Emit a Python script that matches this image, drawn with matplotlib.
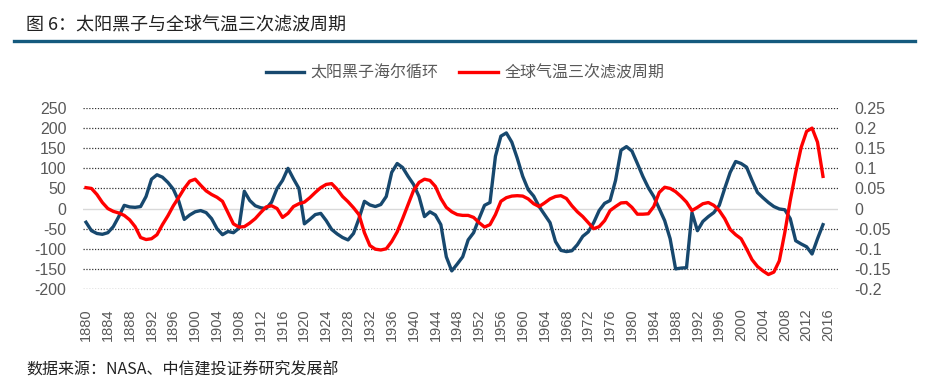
import matplotlib
matplotlib.use("Agg")
import matplotlib.pyplot as plt
from matplotlib.lines import Line2D

plt.rcParams['font.family'] = ['Liberation Sans', 'Noto Sans CJK SC', 'DejaVu Sans']

# yearly data, 1880-2015
years = list(range(1880, 2016))

sunspot = [
    -34, -55, -62, -64, -60, -45, -20, 8, 4, 3,          # 1880-1889
    5, 30, 73, 84, 78, 65, 48, 18, -27, -16,             # 1890-1899
    -8, -5, -10, -25, -50, -65, -57, -60, -49, 43,       # 1900-1909
    20, 7, 2, 0, 16, 50, 70, 100, 74, 50,                # 1910-1919
    -38, -27, -15, -12, -30, -52, -63, -72, -78, -62,    # 1920-1929
    -25, 18, 9, 5, 10, 30, 90, 112, 102, 80,             # 1930-1939
    60, 30, -20, -8, -16, -40, -120, -155, -138, -120,   # 1940-1949
    -78, -60, -25, 8, 15, 130, 180, 188, 165, 125,       # 1950-1959
    80, 47, 31, 5, -15, -35, -82, -104, -107, -105,      # 1960-1969
    -90, -69, -58, -35, -5, 13, 20, 70, 145, 154,        # 1970-1979
    143, 112, 80, 52, 30, 0, -30, -75, -150, -148,       # 1980-1989
    -147, -10, -55, -32, -20, -10, 8, 50, 90, 117,       # 1990-1999
    112, 103, 70, 40, 27, 15, 5, -1, -3, -25,            # 2000-2009
    -80, -88, -95, -113, -75, -40,                       # 2010-2015
]

temp_cycle = [
    0.052, 0.050, 0.035, 0.015, 0.000, -0.007, -0.011, -0.017, -0.028, -0.045,   # 1880-1889
    -0.072, -0.077, -0.075, -0.065, -0.040, -0.018, 0.007, 0.028, 0.050, 0.068,  # 1890-1899
    0.073, 0.058, 0.044, 0.035, 0.028, 0.018, -0.010, -0.038, -0.046, -0.045,    # 1900-1909
    -0.036, -0.025, -0.010, 0.004, 0.007, 0.000, -0.022, -0.012, 0.005, 0.012,   # 1910-1919
    0.016, 0.027, 0.040, 0.052, 0.060, 0.062, 0.048, 0.030, 0.017, 0.002,       # 1920-1929
    -0.015, -0.060, -0.092, -0.101, -0.103, -0.100, -0.082, -0.058, -0.025, 0.010,  # 1930-1939
    0.045, 0.065, 0.073, 0.070, 0.055, 0.025, 0.003, -0.008, -0.015, -0.017,     # 1940-1949
    -0.017, -0.022, -0.035, -0.046, -0.040, -0.015, 0.018, 0.027, 0.031, 0.032,  # 1950-1959
    0.031, 0.024, 0.012, 0.005, 0.014, 0.024, 0.030, 0.032, 0.025, 0.007,        # 1960-1969
    -0.008, -0.020, -0.035, -0.050, -0.045, -0.030, -0.005, 0.005, 0.014, 0.015,  # 1970-1979
    0.003, -0.014, -0.014, -0.013, 0.005, 0.040, 0.053, 0.050, 0.042, 0.030,     # 1980-1989
    0.016, -0.005, 0.003, 0.012, 0.015, 0.008, -0.005, -0.025, -0.052, -0.065,   # 1990-1999
    -0.075, -0.100, -0.127, -0.144, -0.155, -0.164, -0.158, -0.130, -0.060, 0.020,  # 2000-2009
    0.090, 0.152, 0.192, 0.200, 0.165, 0.080,                                    # 2010-2015
]

left_ticks = [250, 200, 150, 100, 50, 0, -50, -100, -150, -200]
right_ticks = [0.25, 0.2, 0.15, 0.1, 0.05, 0, -0.05, -0.1, -0.15, -0.2]
right_labels = ['0.25', '0.2', '0.15', '0.1', '0.05', '0', '-0.05', '-0.1', '-0.15', '-0.2']
x_ticks = list(range(1880, 2017, 4))

title = '图 6：太阳黑子与全球气温三次滤波周期'
source = '数据来源：NASA、中信建投证券研究发展部'
name_sun = '太阳黑子海尔循环'
name_temp = '全球气温三次滤波周期'

blue = '#17486E'
red = '#FF0000'
grey = '#595959'
cjk = ['Noto Sans CJK SC', 'DejaVu Sans']

fig = plt.figure(figsize=(9.29, 3.91), dpi=100)
ax = fig.add_axes([83 / 929, 1 - 289 / 391, (838 - 83) / 929, (289 - 108) / 391])
ax2 = ax.twinx()

# grid: dotted lines, a light solid one at zero
for v in left_ticks:
    if v == 0:
        ax.axhline(v, color='#D9D9D9', lw=1.0, zorder=0)
    else:
        ax.axhline(v, color='#333333', lw=0.9, ls=(0, (1, 1.3)), zorder=0)

ax.plot(years, sunspot, color=blue, lw=2.4, solid_joinstyle='round', zorder=3)
ax2.plot(years, temp_cycle, color=red, lw=2.4, solid_joinstyle='round', zorder=3)

ax.set_xlim(1879.45, 2017.75)
ax.set_ylim(-200, 250)
ax2.set_ylim(-0.2, 0.25)

ax.set_yticks(left_ticks)
ax.set_yticklabels([str(v) for v in left_ticks])
ax2.set_yticks(right_ticks)
ax2.set_yticklabels(right_labels)
ax.set_xticks(x_ticks)
ax.set_xticklabels([str(y) for y in x_ticks], rotation=90)

for a in (ax, ax2):
    for s in a.spines.values():
        s.set_visible(False)
ax.tick_params(axis='y', length=0, labelsize=11.5, labelcolor=grey, pad=12)
ax.tick_params(axis='x', length=0, labelsize=10.5, labelcolor=grey, pad=14)
ax2.tick_params(axis='y', length=0, labelsize=11.5, labelcolor=grey, pad=12)

# title and rule
fig.text(26 / 929, 1 - 25 / 391, title, fontsize=13, color='#222222',
         family=cjk, va='center', ha='left')
fig.add_artist(Line2D([14 / 929, 915 / 929], [1 - 41 / 391, 1 - 41 / 391],
                      color='#155A7E', lw=2.4))

# legend
handles = [Line2D([], [], color=blue, lw=2.4), Line2D([], [], color=red, lw=2.4)]
leg = fig.legend(handles, [name_sun, name_temp], loc='center',
                 bbox_to_anchor=(465 / 929, 1 - 73 / 391), ncol=2, frameon=False,
                 handlelength=2.4, columnspacing=1.3, handletextpad=0.4,
                 prop={'family': cjk, 'size': 11.5})
for t in leg.get_texts():
    t.set_color(grey)

fig.text(26 / 929, 1 - 370 / 391, source, fontsize=11.5, color='#222222',
         family=cjk, style='italic', va='center', ha='left')

fig.savefig('out.png', dpi=100)
